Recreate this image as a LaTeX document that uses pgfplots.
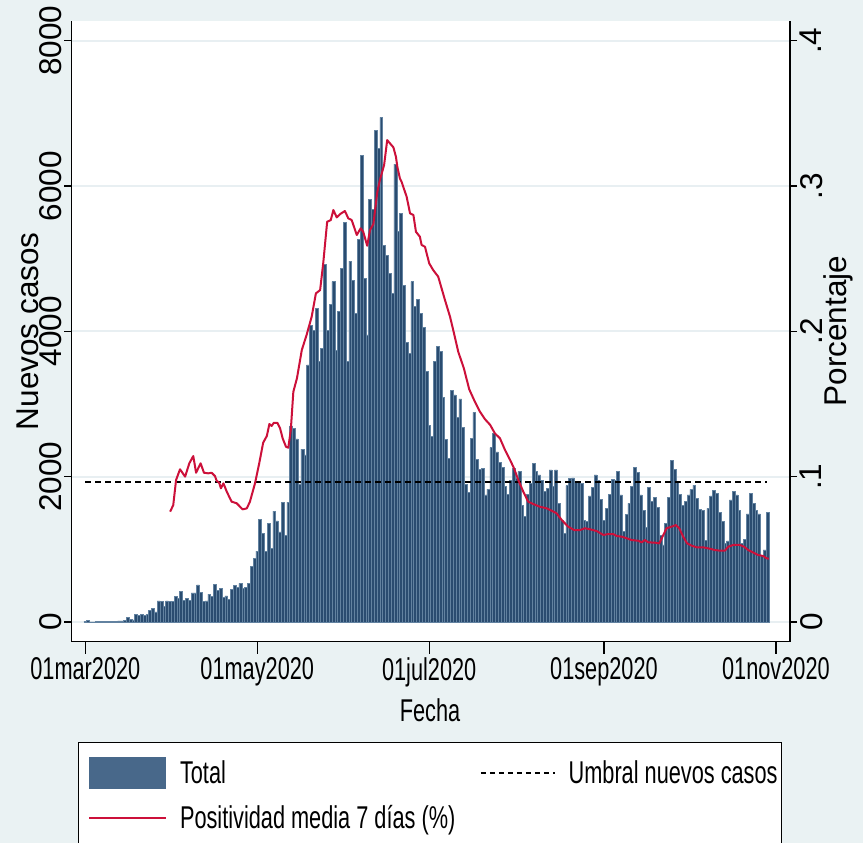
\documentclass[border=0pt]{standalone}
\usepackage{fontspec}
\setmainfont{Liberation Sans}[FakeStretch=0.69]
\newfontfamily\rotfont{Liberation Sans}
\usepackage{pgfplots}
\usepackage{pgfplotstable}
\pgfplotsset{compat=1.18}
\definecolor{bgc}{RGB}{234,242,243}
\definecolor{gridc}{RGB}{232,239,242}
\definecolor{barfill}{RGB}{42,76,112}
\definecolor{baredge}{RGB}{98,130,160}
\definecolor{legfill}{RGB}{72,104,138}
\definecolor{redl}{RGB}{204,16,58}
\newcommand{\myhfont}{\fontsize{31.5}{36}\selectfont}
\newcommand{\myvfont}{\rotfont\fontsize{31.5}{36}\selectfont}

\pgfplotstableread{
day total
0 5
1 20
2 3
3 3
4 5
5 5
6 8
7 8
8 10
9 10
10 12
11 12
12 15
13 15
14 18
15 64
16 35
17 30
18 100
19 90
20 100
21 95
22 100
23 155
24 190
25 140
26 290
27 280
28 220
29 290
30 280
31 280
32 350
33 320
34 420
35 300
36 320
37 300
38 400
39 400
40 510
41 410
42 280
43 292
44 383
45 349
46 518
47 440
48 463
49 340
50 358
51 312
52 450
53 509
54 477
55 532
56 463
57 477
58 532
59 761
60 876
61 977
62 1413
63 1220
64 977
65 1358
66 1014
67 1527
68 1390
69 1239
70 1651
71 1193
72 1651
73 2700
74 2660
75 2520
76 1900
77 2380
78 2300
79 3540
80 4087
81 4018
82 4316
83 3583
84 3766
85 4922
86 4018
87 4376
88 4683
89 3743
90 4270
91 4866
92 5495
93 3583
94 4967
95 4706
96 4247
97 5270
98 6417
99 4729
100 3950
101 5816
102 5678
103 6761
104 6518
105 6944
106 5178
107 5050
108 4798
109 4522
110 6302
111 5380
112 5622
113 4637
114 3843
115 3697
116 4683
117 4339
118 4440
119 4247
120 4050
121 3445
122 2711
123 2559
124 3583
125 3798
126 3720
127 3087
128 2514
129 2252
130 3183
131 3124
132 2817
133 3069
134 2679
135 1899
136 1780
137 2527
138 2886
139 2243
140 2100
141 2110
142 1750
143 1830
144 2400
145 2600
146 2340
147 2200
148 2128
149 1862
150 1761
151 1945
152 2115
153 1977
154 2069
155 1610
156 1450
157 1761
158 1908
159 2183
160 2069
161 2023
162 1954
163 1794
164 1840
165 2092
166 1862
167 2092
168 1633
169 1403
170 1220
171 1876
172 1977
173 1985
174 1917
175 1917
176 1908
177 1403
178 1380
179 1734
180 1849
181 2023
182 1954
183 1688
184 1403
185 1564
186 1761
187 1963
188 1945
189 2069
190 1748
191 1252
192 1482
193 1633
194 1862
195 2128
196 2055
197 1748
198 1532
199 1302
200 1853
201 1656
202 1716
203 1578
204 1197
205 1060
206 1358
207 1716
208 2220
209 2101
210 1931
211 1761
212 1610
213 1656
214 1748
215 1826
216 1885
217 1702
218 1551
219 1541
220 1128
221 1564
222 1734
223 1807
224 1771
225 1505
226 1380
227 1083
228 1115
229 1679
230 1794
231 1748
232 1541
233 1083
234 1142
235 1487
236 1771
237 1633
238 1541
239 1487
240 922
241 991
242 1504
}\casos

\pgfplotstableread{
day pos
30.1 0.0759
31.2 0.0805
32.2 0.0977
33.6 0.1051
35.4 0.1000
36.9 0.1092
38.3 0.1142
39.3 0.1027
40.9 0.1092
42.1 0.1027
43.6 0.1023
44.8 0.1027
46.0 0.1004
46.6 0.0972
47.5 0.0958
48.1 0.0920
49.0 0.0954
50.2 0.0896
51.9 0.0828
53.7 0.0817
54.9 0.0793
55.8 0.0775
57.3 0.0782
58.4 0.0828
60.2 0.0954
61.7 0.1092
63.1 0.1234
64.4 0.1280
65.3 0.1362
66.1 0.1349
66.9 0.1371
68.1 0.1371
69.1 0.1333
70.0 0.1264
71.2 0.1206
72.0 0.1199
72.9 0.1321
73.8 0.1584
75.1 0.1679
76.8 0.1871
78.5 0.1975
80.3 0.2100
81.8 0.2261
83.3 0.2284
84.4 0.2468
85.8 0.2754
87.1 0.2766
88.0 0.2835
89.2 0.2784
90.4 0.2807
92.1 0.2828
93.3 0.2777
94.5 0.2766
96.3 0.2663
97.7 0.2709
98.6 0.2685
100.0 0.2589
101.0 0.2697
102.2 0.2738
103.6 0.2960
104.5 0.3041
106.0 0.3144
107.1 0.3316
108.1 0.3293
109.3 0.3266
110.2 0.3201
110.7 0.3132
111.6 0.3053
112.2 0.3029
114.0 0.2926
115.2 0.2812
116.4 0.2800
117.3 0.2685
118.7 0.2651
119.3 0.2594
120.5 0.2582
122.0 0.2468
123.4 0.2422
125.2 0.2376
127.6 0.2215
129.4 0.2100
130.8 0.1986
132.3 0.1860
134.3 0.1745
136.2 0.1601
138.2 0.1516
140.0 0.1447
141.8 0.1395
143.6 0.1357
145.3 0.1298
147.1 0.1264
148.9 0.1183
150.7 0.1115
152.1 0.1057
153.6 0.0977
155.4 0.0896
157.1 0.0828
158.9 0.0812
161.3 0.0793
163.7 0.0782
165.4 0.0766
167.2 0.0748
169.0 0.0702
171.3 0.0656
173.4 0.0633
175.5 0.0633
177.3 0.0645
179.0 0.0638
181.4 0.0626
183.8 0.0599
185.5 0.0605
187.3 0.0605
188.5 0.0592
190.3 0.0587
192.1 0.0576
193.8 0.0564
196.2 0.0559
197.4 0.0548
198.5 0.0564
199.7 0.0548
202.1 0.0546
203.6 0.0541
204.5 0.0576
206.2 0.0645
208.0 0.0656
209.5 0.0667
210.7 0.0645
212.1 0.0587
213.5 0.0541
215.1 0.0525
216.9 0.0514
219.2 0.0514
221.6 0.0504
223.4 0.0495
225.1 0.0491
226.9 0.0491
228.1 0.0518
229.9 0.0530
232.2 0.0530
233.7 0.0518
235.2 0.0495
237.0 0.0477
238.7 0.0461
240.5 0.0454
241.7 0.0438
242.5 0.0436
}\posit

\begin{document}
\begin{tikzpicture}
\useasboundingbox (0pt,0pt) rectangle (863pt,843pt);
\fill[bgc] (0pt,0pt) rectangle (863pt,843pt);
\fill[white] (78.7pt,-5pt) rectangle (781.6pt,100.3pt);
\draw[line width=1.2pt] (78.7pt,-5pt) -- (78.7pt,100.3pt) -- (781.6pt,100.3pt) -- (781.6pt,-5pt);

\pgfplotsset{common/.style={at={(71.5pt,201.3pt)}, anchor=south west, scale only axis,
  width=718.5pt, height=621pt, xmin=-4.9, xmax=250,
  tick align=outside, tick style={black, line width=1.2pt},
  axis line style={black, line width=1.2pt}}}

\begin{axis}[common, ymin=-271, ymax=8275,
  axis background/.style={fill=white},
  axis x line*=bottom, axis y line*=left,
  xtick=\empty,
  ytick={0,2000,4000,6000,8000}, yticklabels={0,2000,4000,6000,8000},
  major tick length=7pt,
  yticklabel style={font=\myvfont, rotate=90, anchor=south, inner sep=2pt},
  ymajorgrids, grid style={gridc, line width=2pt},
  ylabel={Nuevos casos}, ylabel style={font=\myvfont, at={(axis description cs:-0.0605,0.5)}, anchor=center},
  legend columns=2, legend cell align=left,
  legend style={at={(0.023,-0.1752)}, anchor=north west, draw=none, fill=none,
    inner sep=0pt, outer sep=0pt, row sep=0pt, font=\myhfont, nodes={inner sep=0pt},
    /tikz/every odd column/.style={column sep=13pt},
    /tikz/every even column/.style={column sep=10pt}}
]
\addplot[ybar, bar width=1, bar shift=0pt, fill=barfill, draw=baredge, line width=0.5pt,
  legend image code/.code={\fill[legfill, draw=none] (0pt,-16pt) rectangle (77pt,16pt); \path[draw=none, fill=none] (0pt,-22.5pt) rectangle (77pt,22.5pt);}]
  table[x=day,y=total]{\casos};
\addlegendentry{\makebox[290pt][l]{Total}}
\addplot[black, dash pattern=on 6pt off 4pt, line width=2pt,
  legend image code/.code={\draw[black, dash pattern=on 5pt off 4pt, line width=1.6pt] (0pt,0pt) -- (74pt,0pt); \path[draw=none, fill=none] (0pt,-22.5pt) rectangle (74pt,22.5pt);}]
  coordinates {(0,1925) (242,1925)};
\addlegendentry{Umbral nuevos casos}
\addlegendimage{redl, line width=2pt, legend image code/.code={\draw[redl, solid, line width=2pt] (0pt,0pt) -- (77pt,0pt); \path[draw=none, fill=none] (0pt,-22.5pt) rectangle (77pt,22.5pt);}}
\addlegendentry{\makebox[290pt][l]{Positividad media 7 días (\%)}}
\end{axis}

\begin{axis}[common, ymin=0, ymax=1, axis x line*=bottom, axis y line=none,
  xtick={0,61,122,184,245},
  xticklabels={01mar2020,01may2020,01jul2020,01sep2020,01nov2020},
  major tick length=12pt, xticklabel style={font=\myhfont},
  xlabel={Fecha}, xlabel style={font=\myhfont, at={(axis description cs:0.499,-0.110)}, anchor=center}]
\end{axis}

\begin{axis}[common, ymin=-0.01355, ymax=0.41375, axis x line=none, axis y line*=right,
  ytick={0,0.1,0.2,0.3,0.4}, yticklabels={0,.1,.2,.3,.4}, major tick length=7pt,
  yticklabel style={font=\myvfont, rotate=90, anchor=north, inner sep=3pt},
  ylabel={Porcentaje}, ylabel style={font=\myvfont, at={(axis description cs:1.0668,0.5)}, anchor=center}]
\addplot[redl, line width=2pt, line join=round] table[x=day,y=pos]{\posit};
\end{axis}
\end{tikzpicture}
\end{document}
